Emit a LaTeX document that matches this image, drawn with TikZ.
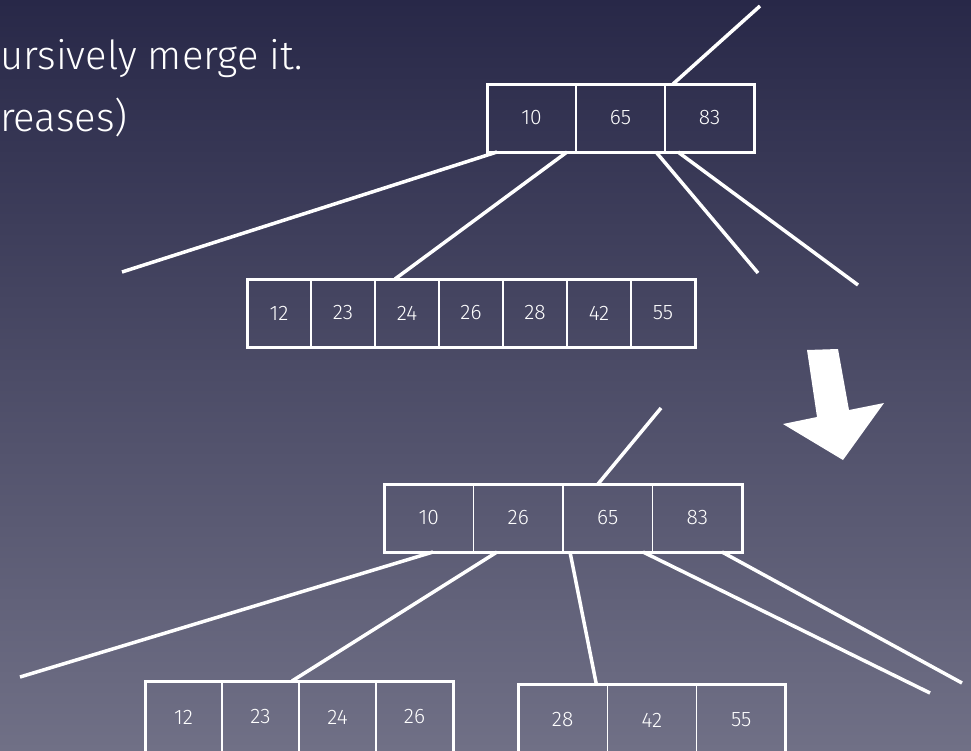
\documentclass[tikz,border=0pt]{standalone}
\usepackage{fontspec}
\setmainfont{Fira Sans Light}
\usetikzlibrary{positioning}
\definecolor{bgtop}{RGB}{40, 40, 72}
\definecolor{bgbottom}{RGB}{112, 112, 134}

\begin{document}
\begin{tikzpicture}[x=1pt, y=-1pt,
  cell/.style={draw=white, line width=1.5, inner sep=0pt, outer sep=0pt,
    minimum height=68, text=white, font=\fontsize{21}{21}\selectfont},
  boxline/.style={draw=white, line width=3},
  branch/.style={white, line width=3.5},
  slide/.style={anchor=base west, inner sep=0pt, text=white,
    font=\fontsize{40}{40}\selectfont}]

  \useasboundingbox (0, 0) rectangle (971, 750);
  \clip (0, 0) rectangle (971, 750);
  \shade[top color=bgtop, bottom color=bgbottom] (0, 0) rectangle (971, 750);

  % text of the slide
  \node[slide] (line1) at (0, 69) {ursively merge it.};
  \node[slide] (line2) at (0, 131) {reases)};

  % node before the merge
  \node[cell, minimum width=89, anchor=north west] (t1) at (487, 84) {10};
  \node[cell, minimum width=89, right=0pt of t1] (t2) {65};
  \node[cell, minimum width=89, right=0pt of t2] (t3) {83};
  \draw[boxline] (t1.north west) rectangle (t3.south east);

  % child with seven keys
  \node[cell, minimum width=64, anchor=north west] (m1) at (247, 279) {12};
  \node[cell, minimum width=64, right=0pt of m1] (m2) {23};
  \node[cell, minimum width=64, right=0pt of m2] (m3) {24};
  \node[cell, minimum width=64, right=0pt of m3] (m4) {26};
  \node[cell, minimum width=64, right=0pt of m4] (m5) {28};
  \node[cell, minimum width=64, right=0pt of m5] (m6) {42};
  \node[cell, minimum width=64, right=0pt of m6] (m7) {55};
  \draw[boxline] (m1.north west) rectangle (m7.south east);

  % node after the merge
  \node[cell, minimum width=89.5, anchor=north west] (l1) at (384, 484) {10};
  \node[cell, minimum width=89.5, right=0pt of l1] (l2) {26};
  \node[cell, minimum width=89.5, right=0pt of l2] (l3) {65};
  \node[cell, minimum width=89.5, right=0pt of l3] (l4) {83};
  \draw[boxline] (l1.north west) rectangle (l4.south east);

  % the two halves
  \node[cell, minimum width=77, minimum height=72, anchor=north west] (b1) at (145, 681) {12};
  \node[cell, minimum width=77, minimum height=72, right=0pt of b1] (b2) {23};
  \node[cell, minimum width=77, minimum height=72, right=0pt of b2] (b3) {24};
  \node[cell, minimum width=77, minimum height=72, right=0pt of b3] (b4) {26};
  \draw[boxline] (b1.north west) rectangle (b4.south east);

  \node[cell, minimum width=89.3, minimum height=72, anchor=north west] (r1) at (518, 684) {28};
  \node[cell, minimum width=89.3, minimum height=72, right=0pt of r1] (r2) {42};
  \node[cell, minimum width=89.3, minimum height=72, right=0pt of r2] (r3) {55};
  \draw[boxline] (r1.north west) rectangle (r3.south east);

  % loose ends of the branches
  \coordinate (tup) at (760, 6);
  \coordinate (tleft) at (122, 272);
  \coordinate (tright) at (758, 273);
  \coordinate (tfar) at (858, 285);
  \coordinate (lup) at (661, 408);
  \coordinate (lleft) at (20, 677);
  \coordinate (lright) at (930, 693);
  \coordinate (lfar) at (962, 683);

  % branches before
  \draw[branch] ([xshift=8pt]t3.north west) -- (tup);
  \draw[branch] ([xshift=10pt]t1.south west) -- (tleft);
  \draw[branch] ([xshift=-9pt]t1.south east) -- ([xshift=20pt]m3.north west);
  \draw[branch] ([xshift=-9pt]t2.south east) -- (tright);
  \draw[branch] ([xshift=13pt]t3.south west) -- (tfar);

  % branches after
  \draw[branch] ([xshift=35pt]l3.north west) -- (lup);
  \draw[branch] ([xshift=49pt]l1.south west) -- (lleft);
  \draw[branch] ([xshift=23.5pt]l2.south west) -- ([xshift=-7pt]b2.north east);
  \draw[branch] ([xshift=7pt]l3.south west) -- ([xshift=-11pt]r1.north east);
  \draw[branch] ([xshift=-9.5pt]l3.south east) -- (lright);
  \draw[branch] ([xshift=69.5pt]l4.south west) -- (lfar);

  % big arrow
  \fill[white] (807, 350) -- (838, 349) -- (849, 410) -- (884, 403)
    -- (843, 460) -- (783, 424) -- (817, 417) -- cycle;

\end{tikzpicture}
\end{document}
